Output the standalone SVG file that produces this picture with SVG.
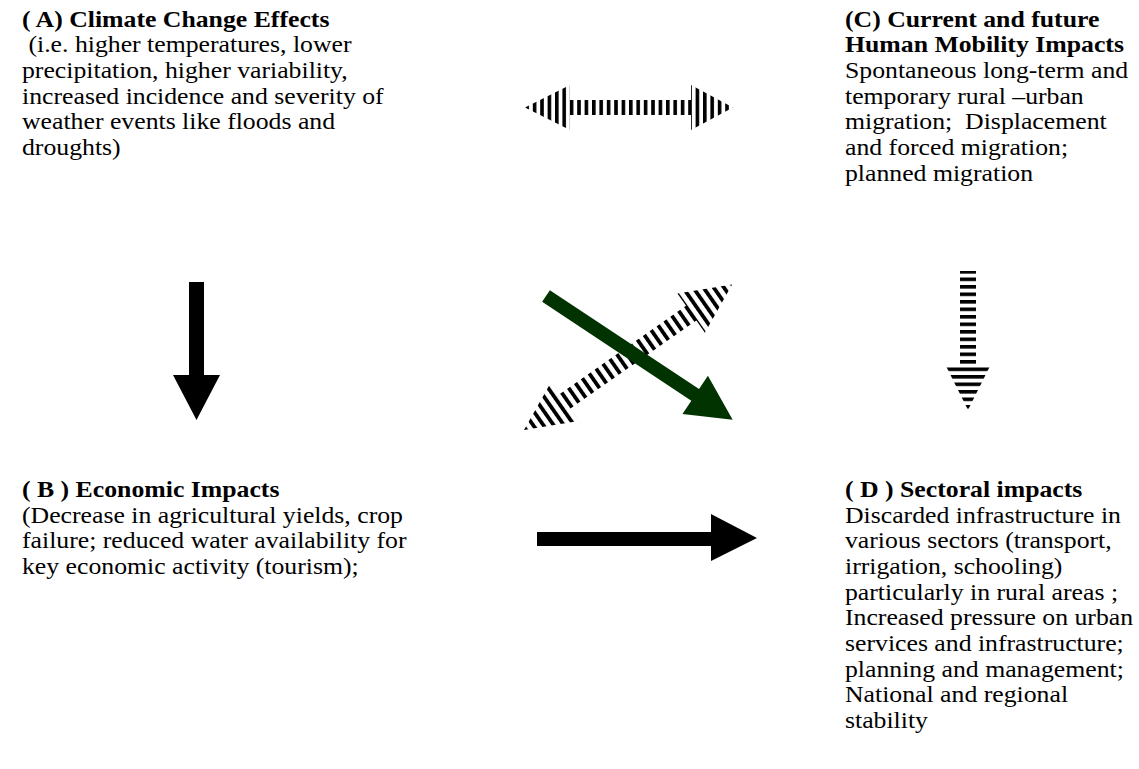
<svg xmlns="http://www.w3.org/2000/svg" width="1139" height="769" viewBox="0 0 1139 769">
<style>
text{font-family:"Liberation Serif","Times New Roman",serif;font-size:22.3px;fill:#000;white-space:pre}
.b{font-weight:bold}
</style>
<defs>
<pattern id="vstripe" patternUnits="userSpaceOnUse" width="7.4" height="10"><rect x="0" y="0" width="3.6" height="10" fill="#000"/></pattern>
<pattern id="dstripe" patternUnits="userSpaceOnUse" width="8.4" height="10"><rect x="0" y="0" width="3.8" height="10" fill="#000"/></pattern>
<pattern id="hstripe" patternUnits="userSpaceOnUse" width="10" height="7.5"><rect x="0" y="0" width="10" height="3.6" fill="#000"/></pattern>
</defs>
<rect width="1139" height="769" fill="#fff"/>
<g id="nodeA">
<text transform="translate(22,0) scale(1.155,1)"><tspan class="b" x="0" y="26.7">( A) Climate Change Effects</tspan><tspan x="0" y="52.4"> (i.e. higher temperatures, lower</tspan><tspan x="0" y="78">precipitation, higher variability,</tspan><tspan x="0" y="103.7">increased incidence and severity of</tspan><tspan x="0" y="129.3">weather events like floods and</tspan><tspan x="0" y="155">droughts)</tspan></text>
</g>
<g id="nodeC">
<text transform="translate(845,0) scale(1.155,1)"><tspan class="b" x="0" y="26.7">(C) Current and future</tspan><tspan class="b" x="0" y="52.4">Human Mobility Impacts</tspan><tspan x="0" y="78">Spontaneous long-term and</tspan><tspan x="0" y="103.7">temporary rural –urban</tspan><tspan x="0" y="129.3">migration;  Displacement</tspan><tspan x="0" y="155">and forced migration;</tspan><tspan x="0" y="180.7">planned migration</tspan></text>
</g>
<g id="nodeB">
<text transform="translate(22,0) scale(1.155,1)"><tspan class="b" x="0" y="497">( B ) Economic Impacts</tspan><tspan x="0" y="522.7">(Decrease in agricultural yields, crop</tspan><tspan x="0" y="548.3">failure; reduced water availability for</tspan><tspan x="0" y="574">key economic activity (tourism);</tspan></text>
</g>
<g id="nodeD">
<text transform="translate(845,0) scale(1.155,1)"><tspan class="b" x="0" y="497">( D ) Sectoral impacts</tspan><tspan x="0" y="522.7">Discarded infrastructure in</tspan><tspan x="0" y="548.3">various sectors (transport,</tspan><tspan x="0" y="574">irrigation, schooling)</tspan><tspan x="0" y="599.6">particularly in rural areas ;</tspan><tspan x="0" y="625.3">Increased pressure on urban</tspan><tspan x="0" y="651">services and infrastructure;</tspan><tspan x="0" y="676.6">planning and management;</tspan><tspan x="0" y="702.3">National and regional</tspan><tspan x="0" y="728">stability</tspan></text>
</g>
<g id="connectors">
<polygon id="A-C" points="525,107.5 570,85 570,100 691,100 691,85 733,107.5 691,130 691,115 570,115 570,130" fill="url(#vstripe)"/>
<polygon id="A-B" points="189,282 204,282 204,375 220,375 196.5,420 173,375 189,375" fill="#000"/>
<polygon id="C-D" points="960,271 976,271 976,366 990,366 968,410 946,366 960,366" fill="url(#hstripe)"/>
<polygon id="B-D" points="537,532 711,532 711,514 757,538 711,561 711,546 537,546" fill="#000"/>
<polygon id="B-C" transform="translate(524,430) rotate(-34.96)" points="0,0 50,-24 50,-9 204,-9 204,-24 254,0 204,24 204,9 50,9 50,24" fill="url(#dstripe)"/>
<polygon id="A-D" transform="translate(546,296) rotate(33.55)" points="0,-7 179,-7 179,-23 224,0 179,23 179,7 0,7" fill="#003300"/>
</g>
</svg>
